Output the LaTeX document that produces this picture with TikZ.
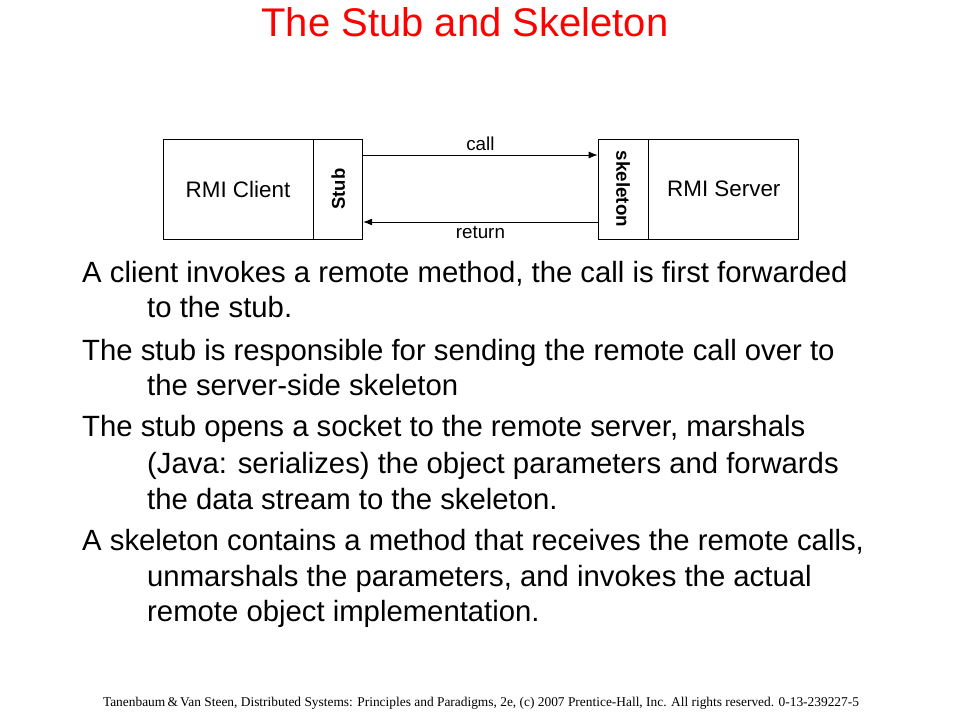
\documentclass[tikz,border=0pt]{standalone}
\usepackage{fontspec}
\setmainfont{Liberation Sans}
\newfontfamily\footfont{Liberation Serif}
\usepackage{tikz}
\usetikzlibrary{arrows.meta}
\tikzstyle{arrow} = [-{Latex[length=9pt,width=7pt]},line width=0.8pt]

\begin{document}
\begin{tikzpicture}[x=1pt,y=-1pt, every node/.style={inner sep=0pt}, box/.style={draw,line width=0.8pt,minimum height=100pt}]
        \useasboundingbox (0,0) rectangle (960,720);
        \node[red,font=\fontsize{40}{46}\selectfont] (title) at (465,22) {The Stub and Skeleton};

        % Client side
        \node[box,minimum width=150pt] (client) at (238,189) {\fontsize{22.4}{26}\selectfont RMI Client};
        \node[box,minimum width=49pt,anchor=west] (stub) at (client.east) {};
        \node[rotate=90,font=\fontsize{18.5}{22}\selectfont\bfseries] (stubtxt) at (stub) {Stub};

        % Server side
        \node[box,minimum width=50pt] (skel) at (623,189) {};
        \node[rotate=-90,font=\fontsize{18.8}{22}\selectfont\bfseries] (skeltxt) at (skel) {skeleton};
        \node[box,minimum width=150pt,anchor=west] (server) at (skel.east) {\fontsize{22.4}{26}\selectfont RMI Server};

        % Edges
        \draw[arrow] ([yshift=34pt]stub.east) -- node[above=4pt,font=\fontsize{18.8}{22}\selectfont] (call) {call} ([yshift=34pt]skel.west);
        \draw[arrow] ([yshift=-33pt]skel.west) -- node[below=4pt,font=\fontsize{18.8}{22}\selectfont] (ret) {return} ([yshift=-33pt]stub.east);

        % Text
        \begin{scope}[every node/.style={anchor=base west,inner sep=0pt,font=\fontsize{29.3}{36}\selectfont}]
        \node (l1) at (82,282) {A client invokes a remote method, the call is first forwarded};
        \node (l2) at (147,317) {to the stub.};
        \node (l3) at (82,360) {The stub is responsible for sending the remote call over to};
        \node (l4) at (147,395) {the server-side skeleton};
        \node (l5) at (82,436) {The stub opens a socket to the remote server, marshals};
        \node (l6) at (147,473) {(Java: serializes) the object parameters and forwards};
        \node (l7) at (147,509) {the data stream to the skeleton.};
        \node (l8) at (82,550) {A skeleton contains a method that receives the remote calls,};
        \node (l9) at (147,586) {unmarshals the parameters, and invokes the actual};
        \node (l10) at (147,621) {remote object implementation.};
        \end{scope}

        \node[font=\footfont\fontsize{13.4}{16}\selectfont] (foot) at (481,703) {Tanenbaum\,\&\,Van Steen, Distributed Systems: Principles and Paradigms, 2e, (c) 2007 Prentice-Hall, Inc. All rights reserved. 0-13-239227-5};
      \end{tikzpicture}
\end{document}
